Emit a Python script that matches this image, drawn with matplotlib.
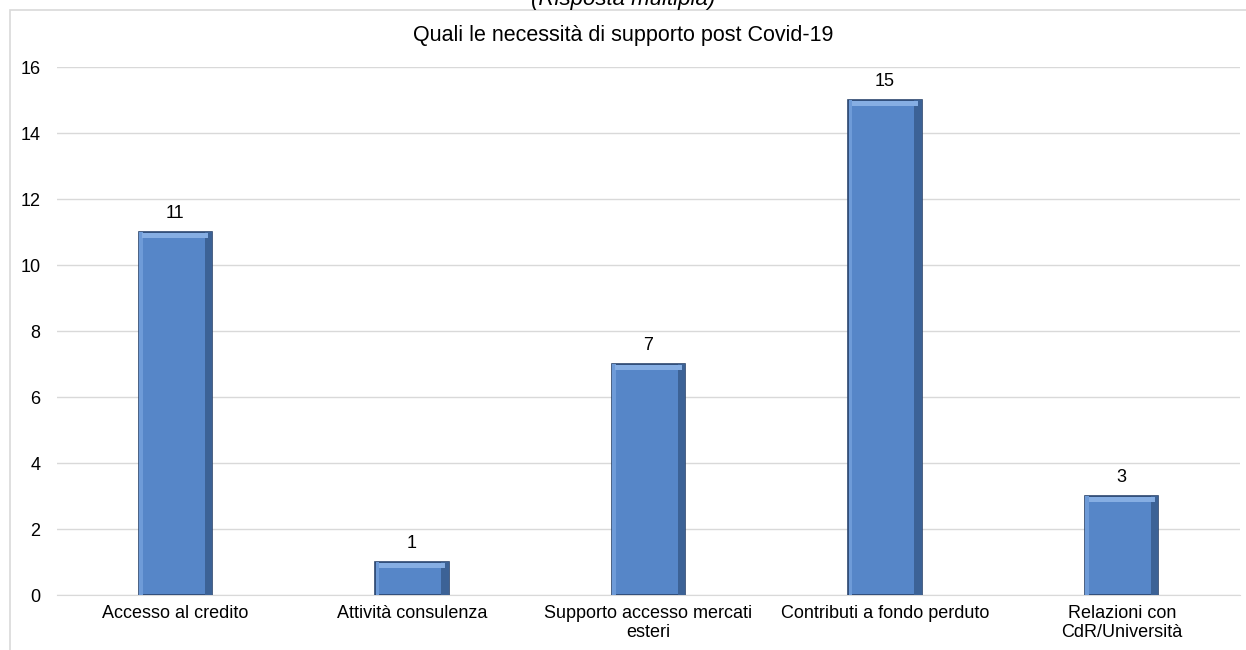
import matplotlib.pyplot as plt
import matplotlib.patches as patches
import numpy as np

plt.rcParams['font.family'] = ['Liberation Sans', 'DejaVu Sans']

# dati
categorie = ["Accesso al credito", "Attività consulenza", "Supporto accesso mercati\nesteri",
             "Contributi a fondo perduto", "Relazioni con\nCdR/Università"]
valori = [11, 1, 7, 15, 3]
tick_y = [0, 2, 4, 6, 8, 10, 12, 14, 16]

fig = plt.figure(figsize=(12.46, 6.5), dpi=100)
ax = fig.add_axes([57 / 1246, 1 - 595 / 650, 1183 / 1246, (595 - 67) / 650])

x = np.arange(len(categorie))
w = 0.31

# barre con effetto "bevel"
ax.bar(x, valori, width=w, color='#5686C8', edgecolor='#2B466E', linewidth=1.2, zorder=3)
ax.bar(x + w * 0.45, valori, width=w * 0.1, color='#3C6296', linewidth=0, zorder=4)
ax.bar(x - w * 0.47, valori, width=w * 0.05, color='#6E9BD8', linewidth=0, zorder=4)
ax.bar(x, 0.14, bottom=np.array(valori) - 0.18, width=w * 0.9, color='#86AEE3', linewidth=0, zorder=5)

for xi, v in zip(x, valori):
    ax.text(xi, v + 0.3, str(v), ha='center', va='bottom', fontsize=13, color='black')

ax.set_xlim(-0.5, len(categorie) - 0.5)
ax.set_ylim(0, 16)
ax.set_yticks(tick_y)
ax.set_xticks(x)
ax.set_xticklabels(categorie, fontsize=13)
ax.tick_params(axis='y', labelsize=13, length=0, pad=12)
ax.tick_params(axis='x', length=0, pad=7)
ax.grid(axis='y', color='#D9D9D9', linewidth=1, zorder=0)
for s in ['top', 'right', 'left']:
    ax.spines[s].set_visible(False)
ax.spines['bottom'].set_color('#D9D9D9')

# titoli
fig.text(0.5, 1 - 36 / 650, "Quali le necessità di supporto post Covid-19", ha='center', va='center', fontsize=15.5)
fig.text(0.5, 1 - 5 / 650, "(Risposta multipla)", ha='center', va='baseline', fontsize=16, style='italic')

# cornice del grafico
fig.patches.append(patches.Rectangle((10 / 1246, -0.1), 1.2, 1 - 10 / 650 + 0.1,
                                     transform=fig.transFigure, fill=False,
                                     edgecolor='#D9D9D9', linewidth=1.2))

plt.savefig('out.png', dpi=100)
plt.close()
